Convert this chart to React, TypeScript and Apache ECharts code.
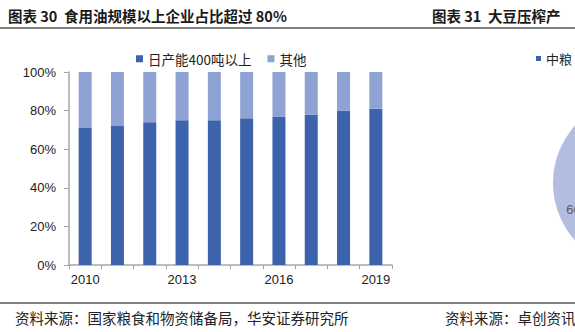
import React, { useEffect, useRef } from "react";
import * as echarts from "echarts";

const years = ["2010", "2011", "2012", "2013", "2014", "2015", "2016", "2017", "2018", "2019"];
const bigShare = [71, 72, 74, 75, 75, 76, 77, 78, 80, 81];
const otherShare = bigShare.map((v) => 100 - v);
const yTicks = [0, 20, 40, 60, 80, 100];
const pieNames = ["中粮", "其他"];
const pieValues = [40, 60];

const DARK = "#3D63AD";
const LIGHT = "#8EA3D4";
const PIE_LIGHT = "#B3BDE0";
const CJK = "'Noto Sans CJK SC', 'Liberation Sans', sans-serif";
const LAT = "'Liberation Sans', Arial, sans-serif";

export default function App() {
  const ref = useRef<HTMLDivElement>(null);
  useEffect(() => {
    document.body.style.margin = "0";
    const chart = echarts.init(ref.current!, null, { renderer: "svg" });
    chart.setOption({
      animation: false,
      backgroundColor: "#ffffff",
      graphic: [
        { type: "text", left: 8, top: 8, style: { text: "图表 30  食用油规模以上企业占比超过 80%", font: `bold 14.5px ${CJK}`, fill: "#1a1a1a" } },
        { type: "text", left: 432, top: 8, style: { text: "图表 31  大豆压榨产", font: `bold 14.5px ${CJK}`, fill: "#1a1a1a" } },
        { type: "line", shape: { x1: 0, y1: 28, x2: 575, y2: 28 }, style: { stroke: "#555", lineWidth: 1.5 } },
        { type: "line", shape: { x1: 0, y1: 303, x2: 575, y2: 303 }, style: { stroke: "#555", lineWidth: 1.5 } },
        { type: "text", left: 15, top: 310, style: { text: "资料来源：国家粮食和物资储备局，华安证券研究所", font: `14.5px ${CJK}`, fill: "#222" } },
        { type: "text", left: 445, top: 310, style: { text: "资料来源：卓创资讯", font: `14.5px ${CJK}`, fill: "#222" } },
      ],
      legend: [
        {
          data: ["日产能400吨以上", "其他"],
          left: 131,
          top: 47,
          icon: "rect",
          itemWidth: 7,
          itemHeight: 7,
          itemGap: 16,
          textStyle: { fontSize: 13.5, fontFamily: CJK, color: "#222" },
        },
        {
          data: ["中粮"],
          left: 531,
          top: 47,
          icon: "rect",
          itemWidth: 5,
          itemHeight: 5,
          itemGap: 10,
          textStyle: { fontSize: 13, fontFamily: CJK, color: "#222" },
        },
      ],
      grid: { left: 69, right: 183, top: 72, bottom: 67, containLabel: false },
      xAxis: {
        type: "category",
        data: years,
        boundaryGap: true,
        axisLine: { lineStyle: { color: "#A6A6A6", width: 1.5 } },
        axisTick: { show: true, interval: 0, length: 4, lineStyle: { color: "#A6A6A6" } },
        axisLabel: { interval: 2, color: "#222", fontSize: 13, fontFamily: LAT, margin: 8 },
      },
      yAxis: {
        type: "value",
        min: 0,
        max: 100,
        interval: 20,
        axisLine: { show: true, lineStyle: { color: "#A6A6A6", width: 1.5 } },
        axisTick: { show: true, length: 5, lineStyle: { color: "#A6A6A6" } },
        splitLine: { show: false },
        axisLabel: {
          color: "#222",
          fontSize: 13,
          fontFamily: LAT,
          margin: 13,
          formatter: (v: number) => (yTicks.includes(v) ? `${v}%` : ""),
        },
      },
      series: [
        {
          name: "日产能400吨以上",
          type: "bar",
          stack: "s",
          data: bigShare,
          barWidth: 13,
          itemStyle: { color: DARK },
        },
        {
          name: "其他",
          type: "bar",
          stack: "s",
          data: otherShare,
          barWidth: 13,
          itemStyle: { color: LIGHT },
        },
        {
          name: "pie",
          type: "pie",
          center: [639, 183],
          radius: 86,
          startAngle: 90,
          clockwise: true,
          data: pieNames.map((n, i) => ({
            name: n,
            value: pieValues[i],
            itemStyle: { color: i === 0 ? DARK : PIE_LIGHT },
          })),
          label: {
            show: true,
            position: "inside",
            formatter: "{d}%",
            color: "#595959",
            fontSize: 13,
            fontFamily: LAT,
          },
          labelLine: { show: false },
          labelLayout: { dx: -16, dy: 12 },
          emphasis: { disabled: true },
        },
      ],
    });
    return () => chart.dispose();
  }, []);
  return <div ref={ref} style={{ width: 575, height: 332 }} />;
}
